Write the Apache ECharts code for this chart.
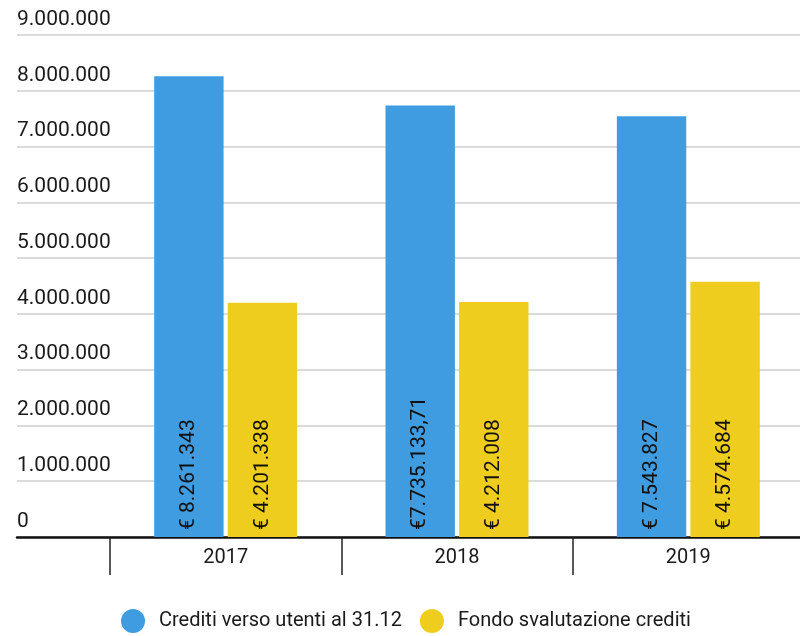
<!DOCTYPE html>
<html>
<head>
<meta charset="utf-8">
<script src="https://cdn.jsdelivr.net/npm/echarts@6/dist/echarts.min.js"></script>
<style>
  html, body { margin: 0; padding: 0; background: #fff; }
  #chart { width: 800px; height: 636px; }
</style>
</head>
<body>
<div id="chart"></div>
<script>
// Anni e valori dei crediti
const years = ['2017', '2018', '2019'];
const creditiUtenti = [8261343, 7735133.71, 7543827];
const fondoSvalutazione = [4201338, 4212008, 4574684];
const creditiLabels = ['€ 8.261.343', '€7.735.133,71', '€ 7.543.827'];
const fondoLabels = ['€ 4.201.338', '€ 4.212.008', '€ 4.574.684'];
const seriesNames = ['Crediti verso utenti al 31.12', 'Fondo svalutazione crediti'];

const FONT = 'Roboto';

function fmtThousands(v) {
  return String(Math.round(v)).replace(/\B(?=(\d{3})+(?!\d))/g, '.');
}

const chart = echarts.init(document.getElementById('chart'), null, { renderer: 'canvas' });

const barLabel = (texts) => ({
  show: true,
  position: 'insideBottom',
  rotate: 90,
  align: 'left',
  verticalAlign: 'middle',
  distance: 7,
  color: '#111',
  fontFamily: FONT,
  fontSize: 21,
  formatter: (p) => texts[p.dataIndex]
});

chart.setOption({
  animation: false,
  textStyle: { fontFamily: FONT },
  legend: {
    bottom: -2,
    left: 116,
    icon: 'circle',
    itemWidth: 24,
    itemHeight: 24,
    itemGap: 18,
    textStyle: { fontFamily: FONT, fontSize: 20, color: '#1a1a1a', padding: [0, 0, 0, 9] },
    data: seriesNames
  },
  grid: [
    { left: 17, right: 0, top: 35, bottom: 99, outerBoundsMode: 'none' },
    // the category band runs slightly past the right edge of the canvas
    { left: 110, width: 694, top: 35, bottom: 99, outerBoundsMode: 'none' }
  ],
  xAxis: [
    {
      gridIndex: 0,
      type: 'category',
      data: years,
      axisLine: { show: true, lineStyle: { color: '#111', width: 2.5 } },
      axisTick: { show: false },
      axisLabel: { show: false },
      splitLine: { show: false }
    },
    {
      gridIndex: 1,
      type: 'category',
      data: years,
      axisLine: { show: false },
      axisTick: { show: true, length: 38, lineStyle: { color: '#222', width: 1.5 } },
      axisLabel: { fontFamily: FONT, fontSize: 20, color: '#1a1a1a', margin: 11 }
    }
  ],
  yAxis: [
    {
      gridIndex: 0,
      type: 'value',
      min: 0,
      max: 9000000,
      interval: 1000000,
      axisLine: { show: false },
      axisTick: { show: false },
      axisLabel: {
        inside: true,
        margin: 0,
        align: 'left',
        verticalAlign: 'bottom',
        padding: [0, 0, 5, 0],
        fontFamily: FONT,
        fontSize: 21,
        color: '#1a1a1a',
        formatter: fmtThousands
      },
      splitLine: { lineStyle: { color: '#cfcfcf', width: 1.5 } }
    },
    {
      gridIndex: 1,
      type: 'value',
      min: 0,
      max: 9000000,
      interval: 1000000,
      show: false,
      splitLine: { show: false }
    }
  ],
  series: [
    {
      name: seriesNames[0],
      type: 'bar',
      xAxisIndex: 1,
      yAxisIndex: 1,
      data: creditiUtenti,
      barWidth: '30%',
      barGap: '6%',
      itemStyle: { color: '#409CE0' },
      label: barLabel(creditiLabels)
    },
    {
      name: seriesNames[1],
      type: 'bar',
      xAxisIndex: 1,
      yAxisIndex: 1,
      data: fondoSvalutazione,
      barWidth: '30%',
      barGap: '6%',
      itemStyle: { color: '#EFCD1F' },
      label: barLabel(fondoLabels)
    }
  ]
});
</script>
</body>
</html>
